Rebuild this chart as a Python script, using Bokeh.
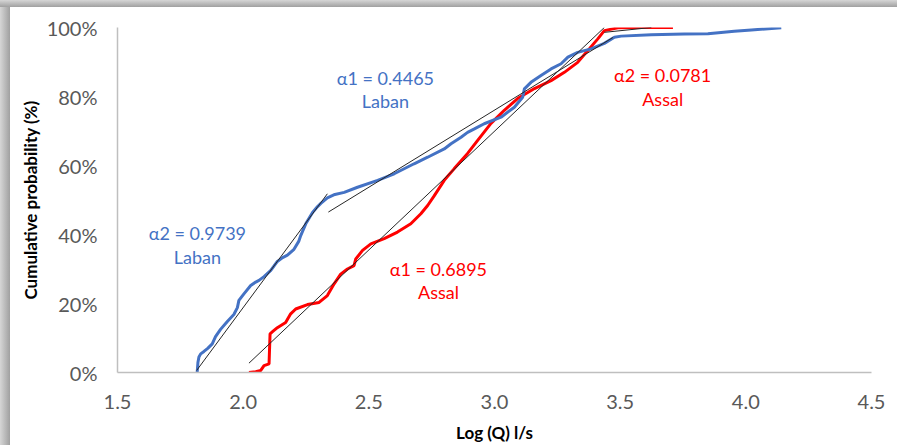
from bokeh.plotting import figure
from bokeh.models import FixedTicker, NumeralTickFormatter, Range1d
from bokeh.core.properties import value
from bokeh.embed import file_html
from bokeh.resources import INLINE

# ---- data ----
laban_logq = [1.817, 1.820, 1.824, 1.831, 1.844, 1.859, 1.877, 1.890, 1.910, 1.937,
              1.963, 1.977, 1.983, 2.003, 2.030, 2.050, 2.063, 2.083, 2.110, 2.136,
              2.157, 2.176, 2.201, 2.221, 2.229, 2.249, 2.276, 2.296, 2.309, 2.335,
              2.365, 2.402, 2.455, 2.535, 2.601, 2.680, 2.734, 2.800, 2.827, 2.867,
              2.893, 2.920, 2.959, 3.026, 3.079, 3.112, 3.119, 3.145, 3.185, 3.225,
              3.265, 3.292, 3.331, 3.384, 3.437, 3.477, 3.504, 3.624, 3.755, 3.849,
              3.954, 4.022, 4.141]
laban_cum = [0.000, 0.029, 0.045, 0.054, 0.061, 0.070, 0.083, 0.104, 0.125, 0.148,
             0.168, 0.188, 0.209, 0.228, 0.252, 0.262, 0.267, 0.278, 0.296, 0.322,
             0.333, 0.340, 0.356, 0.380, 0.397, 0.431, 0.464, 0.481, 0.490, 0.506,
             0.516, 0.522, 0.537, 0.557, 0.576, 0.605, 0.624, 0.648, 0.663, 0.682,
             0.696, 0.706, 0.721, 0.740, 0.769, 0.798, 0.822, 0.841, 0.861, 0.880,
             0.895, 0.914, 0.928, 0.938, 0.954, 0.972, 0.975, 0.979, 0.981, 0.982,
             0.989, 0.993, 0.999]

assal_logq = [2.023, 2.050, 2.070, 2.083, 2.103, 2.107, 2.118, 2.136, 2.169, 2.189,
              2.209, 2.256, 2.302, 2.335, 2.362, 2.388, 2.415, 2.441, 2.448, 2.475,
              2.508, 2.561, 2.614, 2.667, 2.707, 2.734, 2.760, 2.800, 2.840, 2.893,
              2.933, 2.986, 3.039, 3.092, 3.159, 3.225, 3.278, 3.331, 3.371, 3.411,
              3.437, 3.491, 3.570, 3.710]
assal_cum = [0.000, 0.002, 0.006, 0.020, 0.025, 0.112, 0.119, 0.130, 0.145, 0.170,
             0.184, 0.197, 0.203, 0.223, 0.257, 0.285, 0.300, 0.310, 0.329, 0.354,
             0.373, 0.388, 0.407, 0.431, 0.460, 0.484, 0.512, 0.557, 0.591, 0.635,
             0.673, 0.722, 0.760, 0.794, 0.823, 0.846, 0.870, 0.899, 0.933, 0.967,
             0.991, 0.999, 1.000, 1.000]

# fitted segments (endpoints)
laban_a2_x = [1.815, 2.335]
laban_a2_y = [0.006, 0.518]
laban_a1_x = [2.339, 3.471]
laban_a1_y = [0.465, 0.971]
assal_a1_x = [2.023, 3.437]
assal_a1_y = [0.027, 1.000]
assal_a2_x = [3.437, 3.624]
assal_a2_y = [0.986, 1.000]

x_ticks = [1.5, 2.0, 2.5, 3.0, 3.5, 4.0, 4.5]
y_ticks = [0.0, 0.2, 0.4, 0.6, 0.8, 1.0]

labels_text = ["α1 = 0.4465", "Laban", "α2 = 0.9739", "Laban",
               "α1 = 0.6895", "Assal", "α2 = 0.0781", "Assal"]

FONT = "Lato"
BLUE = "#4472C4"
RED = "#FF0000"

p = figure(width=897, height=445, output_backend="svg", toolbar_location=None,
           x_range=Range1d(1.5, 4.5), y_range=Range1d(0, 1),
           min_border_left=117, min_border_right=26, min_border_top=27,
           min_border_bottom=73)
p.outline_line_color = None
p.grid.visible = False
p.background_fill_color = "white"
p.border_fill_color = None
p.styles = {"background": "linear-gradient(to bottom, #d6d6d6 0px, #a0a0a0 7px, rgba(255,255,255,0) 7px), "
                          "linear-gradient(to right, #d6d6d6 0px, #a0a0a0 10px, #ffffff 10px)"}

p.line(assal_logq, assal_cum, line_color=RED, line_width=3)
p.line(laban_logq, laban_cum, line_color=BLUE, line_width=3)

for xs, ys in [(laban_a2_x, laban_a2_y), (laban_a1_x, laban_a1_y),
               (assal_a1_x, assal_a1_y), (assal_a2_x, assal_a2_y)]:
    p.line(xs, ys, line_color="#262626", line_width=1)

# annotations
ann_x = [2.566, 2.566, 1.818, 1.818, 2.777, 2.777, 3.669, 3.669]
ann_y = [0.855, 0.788, 0.403, 0.336, 0.299, 0.232, 0.861, 0.794]
ann_c = [BLUE, BLUE, BLUE, BLUE, RED, RED, RED, RED]
p.text(ann_x, ann_y, text=labels_text, text_color=ann_c,
       text_font=value(FONT), text_font_size="18px",
       text_align="center", text_baseline="middle")

# axes
for ax in (p.xaxis[0], p.yaxis[0]):
    ax.axis_line_color = "#BFBFBF"
    ax.axis_line_width = 1.5
    ax.major_tick_line_color = None
    ax.minor_tick_line_color = None
    ax.major_tick_out = 0
    ax.major_tick_in = 0
    ax.major_label_text_font = FONT
    ax.major_label_text_font_size = "20px"
    ax.major_label_text_color = "#595959"
    ax.axis_label_text_font = FONT
    ax.axis_label_text_font_size = "17px"
    ax.axis_label_text_font_style = "bold"
    ax.axis_label_text_color = "#000000"

p.xaxis.ticker = FixedTicker(ticks=x_ticks)
p.xaxis.formatter = NumeralTickFormatter(format="0.0")
p.xaxis.axis_label = "Log (Q) l/s"
p.xaxis.major_label_standoff = 22
p.xaxis.axis_label_standoff = 10

p.yaxis.ticker = FixedTicker(ticks=y_ticks)
p.yaxis.formatter = NumeralTickFormatter(format="0%")
p.yaxis.axis_label = "Cumulative probability (%)"
p.yaxis.major_label_standoff = 20
p.yaxis.axis_label_standoff = 3

open("out.html", "w").write(file_html(p, INLINE))
